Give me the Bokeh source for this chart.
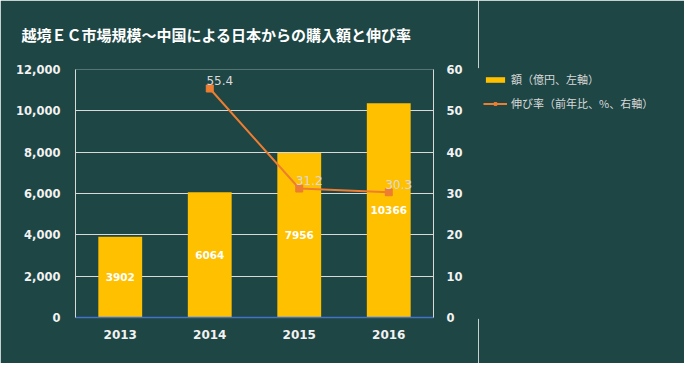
from bokeh.plotting import figure
from bokeh.layouts import row
from bokeh.models import (ColumnDataSource, LinearAxis, Range1d, FixedTicker, NumeralTickFormatter,
                          LabelSet, Title, Legend, LegendItem, FactorRange)
from bokeh.core.properties import value
from bokeh.embed import file_html
from bokeh.resources import INLINE

# ---- data ----
years = ["2013", "2014", "2015", "2016"]
amount = [3902, 6064, 7956, 10366]          # 億円 (left axis)
growth = [None, 55.4, 31.2, 30.3]           # 前年比 % (right axis)
left_ticks = [0, 2000, 4000, 6000, 8000, 10000, 12000]
right_ticks = [0, 10, 20, 30, 40, 50, 60]
title_text = "越境ＥＣ市場規模～中国による日本からの購入額と伸び率"
legend_bar = "額（億円、左軸）"
legend_line = "伸び率（前年比、%、右軸）"

BG = "#1e4645"
BAR = "#FFC000"
LINE = "#ED7D31"
TXT = "#f2f2f2"
LIGHT = "#d9d9d9"

H = 363
W1, W2 = 478, 206
p = figure(width=W1, height=H, x_range=FactorRange(*years, range_padding=0),
           y_range=Range1d(0, 12000), output_backend="svg", toolbar_location=None,
           background_fill_color=BG, border_fill_color=BG,
           min_border_left=75, min_border_right=45, min_border_top=69, min_border_bottom=46)
p.outline_line_color = None
p.extra_y_ranges = {"pct": Range1d(0, 60)}

bar_src = ColumnDataSource(dict(year=years, amount=amount,
                                mid=[a / 2 for a in amount],
                                lab=[str(a) for a in amount]))
p.vbar(x="year", top="amount", width=0.49, source=bar_src, fill_color=BAR, line_color=None)

gy = [y for y, g in zip(years, growth) if g is not None]
gv = [g for g in growth if g is not None]
line_src = ColumnDataSource(dict(year=gy, g=gv, lab=[f"{g:.1f}" for g in gv]))
p.line(x="year", y="g", source=line_src, y_range_name="pct", line_color=LINE, line_width=2)
p.scatter(x="year", y="g", source=line_src, y_range_name="pct", marker="square",
          size=7, fill_color=LINE, line_color=LINE)

# bar labels
p.add_layout(LabelSet(x="year", y="mid", text="lab", source=bar_src, text_align="center",
                      text_baseline="middle", text_color="white", text_font_size="10.5px",
                      text_font_style="bold", text_font=value("DejaVu Sans")))
# line labels
p.add_layout(LabelSet(x="year", y="g", text="lab", source=line_src, y_range_name="pct",
                      text_align="center", text_baseline="middle", x_offset=10, y_offset=8,
                      text_color=LIGHT, text_font_size="12px", text_font=value("DejaVu Sans")))

# axes
p.xaxis.axis_line_color = "#4472c4"
p.xaxis.axis_line_width = 1.5
p.xaxis.major_tick_line_color = None
p.xaxis.minor_tick_line_color = None
p.xaxis.major_label_text_color = TXT
p.xaxis.major_label_text_font_size = "12px"
p.xaxis.major_label_text_font_style = "bold"
p.xaxis.major_label_text_font = "DejaVu Sans"
p.xaxis.major_label_standoff = 6

p.yaxis.ticker = FixedTicker(ticks=left_ticks)
p.yaxis.formatter = NumeralTickFormatter(format="0,0")
p.yaxis.axis_line_color = LIGHT
p.yaxis.major_tick_line_color = None
p.yaxis.minor_tick_line_color = None
p.yaxis.major_label_text_color = TXT
p.yaxis.major_label_text_font_size = "11.5px"
p.yaxis.major_label_text_font_style = "bold"
p.yaxis.major_label_text_font = "DejaVu Sans"
p.yaxis.major_label_standoff = 9

ra = LinearAxis(y_range_name="pct", ticker=FixedTicker(ticks=right_ticks))
ra.axis_line_color = LIGHT
ra.major_tick_line_color = None
ra.minor_tick_line_color = None
ra.major_label_text_color = TXT
ra.major_label_text_font_size = "11.5px"
ra.major_label_text_font_style = "bold"
ra.major_label_text_font = "DejaVu Sans"
ra.major_label_standoff = 7
p.add_layout(ra, "right")

p.xgrid.grid_line_color = None
p.ygrid.ticker = FixedTicker(ticks=left_ticks)
p.ygrid.grid_line_color = LIGHT
p.ygrid.grid_line_width = 1

p.add_layout(Title(text=title_text, align="left", vertical_align="top", offset=-54, standoff=46,
                   text_color="white", text_font_size="15px", text_font_style="bold",
                   text_font="Noto Sans CJK JP"), "above")

# legend panel (second figure, legend only; its glyph sources sit outside its view)
p2 = figure(width=W2, height=H, x_range=Range1d(0, 1), y_range=Range1d(0, 1),
            x_axis_location=None, y_axis_location=None,
            output_backend="svg", toolbar_location=None,
            background_fill_color=BG, border_fill_color=BG,
            min_border_left=0, min_border_right=0, min_border_top=0, min_border_bottom=0)
p2.grid.visible = False
p2.outline_line_color = BG
p2.outline_line_width = 3
proxy = ColumnDataSource(dict(x=[5], y=[5]))
lb = p2.vbar(x="x", top="y", width=0.5, source=proxy, fill_color=BAR, line_color=None)
ll = p2.line(x="x", y="y", source=proxy, line_color=LINE, line_width=2)
ls = p2.scatter(x="x", y="y", source=proxy, marker="square", size=6,
                fill_color=LINE, line_color=LINE)
legend = Legend(items=[LegendItem(label=legend_bar, renderers=[lb]),
                       LegendItem(label=legend_line, renderers=[ll, ls])],
                location=(5, 205), background_fill_alpha=0, border_line_color=None,
                padding=0, margin=0, spacing=6, glyph_width=24, glyph_height=7,
                label_height=18, label_standoff=4, label_text_color=LIGHT,
                label_text_font_size="11px", label_text_font="Noto Sans CJK JP")
p2.add_layout(legend, "center")

layout = row(p, p2, spacing=0)
html = file_html(layout, INLINE)
html = html.replace("<body>", f'<body style="background:{BG}">', 1)
open("out.html", "w").write(html)
